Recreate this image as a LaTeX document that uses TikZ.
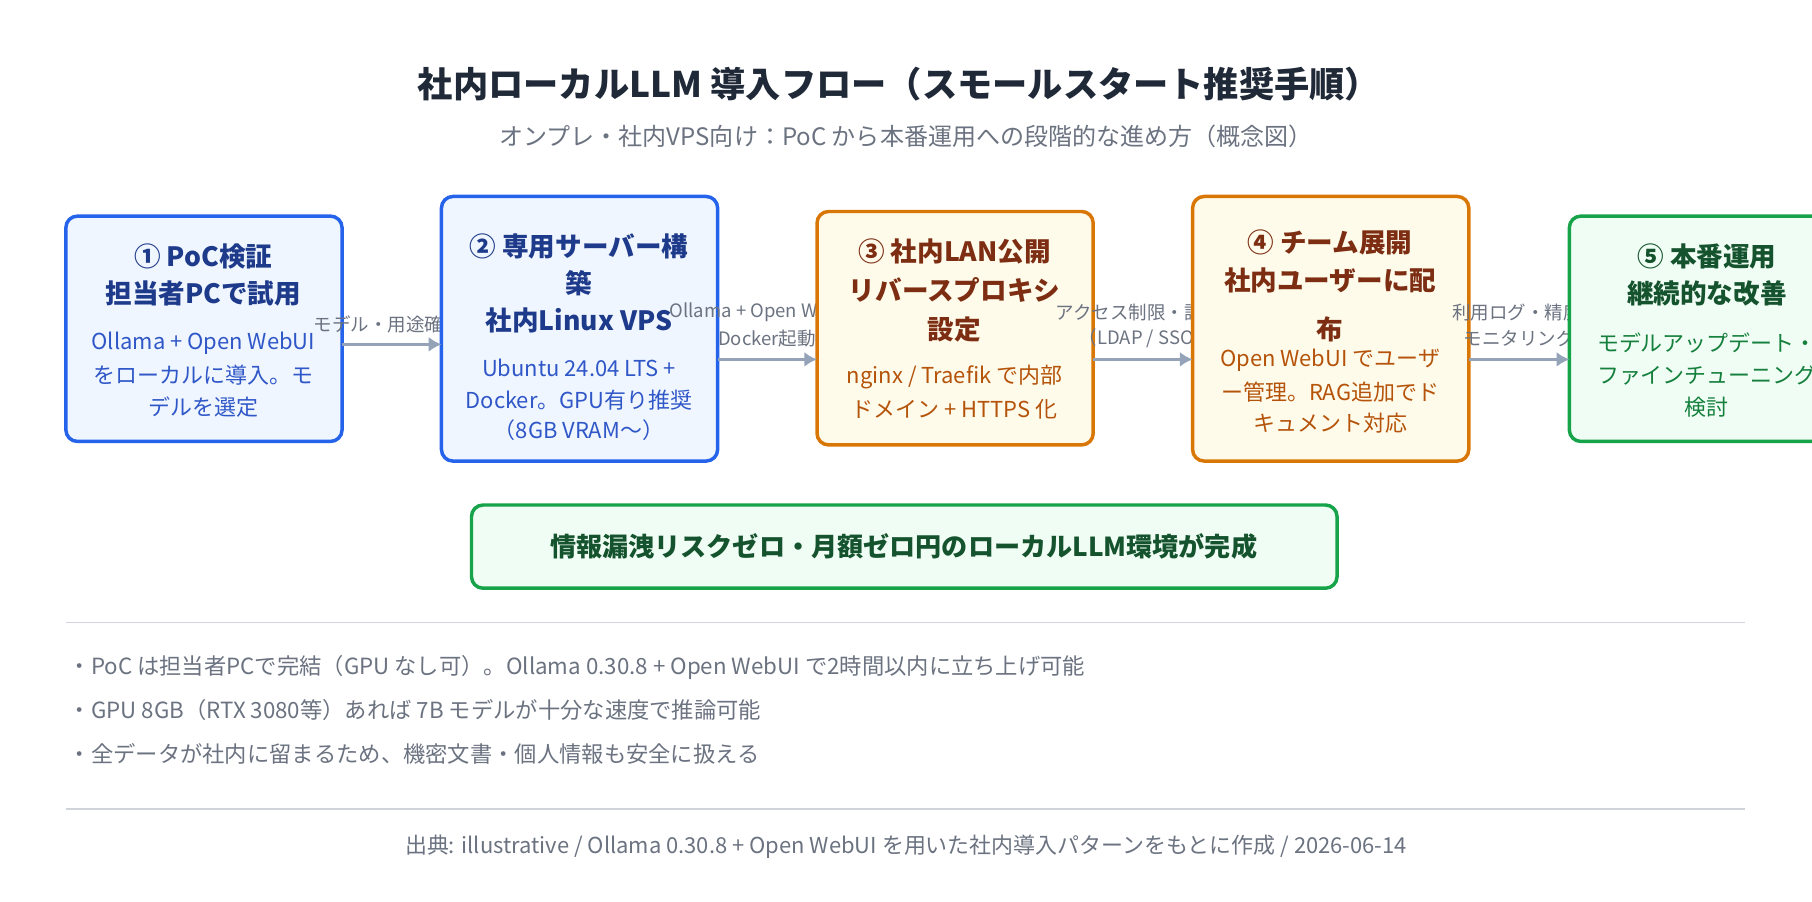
\documentclass[tikz,border=0pt]{standalone}
\usepackage{fontspec}
\usetikzlibrary{arrows.meta}
\setmainfont{Noto Sans CJK JP}
\definecolor{bB}{HTML}{2563EB}\definecolor{bF}{HTML}{EFF6FF}\definecolor{bT}{HTML}{1E3A8A}\definecolor{bX}{HTML}{3057C8}
\definecolor{oB}{HTML}{D97706}\definecolor{oF}{HTML}{FFFBEB}\definecolor{oT}{HTML}{7C2D12}\definecolor{oX}{HTML}{B45309}
\definecolor{gB}{HTML}{16A34A}\definecolor{gF}{HTML}{F0FDF4}\definecolor{gT}{HTML}{14532D}\definecolor{gX}{HTML}{15803D}
\definecolor{arr}{HTML}{94A3B8}\definecolor{lab}{HTML}{6B7280}\definecolor{tit}{HTML}{1F2937}\definecolor{rule}{HTML}{D1D5DB}
\begin{document}
\begin{tikzpicture}[x=1pt,y=-1pt,
 box/.style={draw=#1B,fill=#1F,line width=3pt,rounded corners=10pt},
 tt/.style={font=\fontsize{23}{23}\selectfont\bfseries,text=#1T},
 bx/.style={font=\fontsize{19}{19}\selectfont,text=#1X},
 lb/.style={font=\fontsize{16}{16}\selectfont,text=lab,anchor=west},
 nt/.style={font=\fontsize{19.3}{19}\selectfont,text=lab,anchor=west},
 ar/.style={draw=arr,line width=3pt,-{Latex[length=11pt,width=13pt]}}]
\useasboundingbox (0,0) rectangle (1568,780);
\clip (0,0) rectangle (1568,780);
\node[font=\fontsize{30.5}{30}\selectfont\bfseries,text=tit] (title) at (778,73) {社内ローカルLLM 導入フロー（スモールスタート推奨手順）};
\node[font=\fontsize{20.8}{21}\selectfont,text=lab] (sub) at (784,118) {オンプレ・社内VPS向け：PoC から本番運用への段階的な進め方（概念図）};
% box1
\draw[box=b] (57,187) rectangle (296,382);
\node[tt=b] (a1) at (176,222) {① PoC検証};
\node[tt=b] at (176,254) {担当者PCで試用};
\node[bx=b] at (176,297) {Ollama + Open WebUI};
\node[bx=b] at (176,325) {をローカルに導入。モ};
\node[bx=b] at (176,352) {デルを選定};
\coordinate (b1) at (296,298);
\node[lb] (l1) at (268,281) {モデル・用途確定};
% box2
\draw[box=b] (382,170) rectangle (621,399);
\coordinate (c2) at (382,298);
\draw[ar] (b1) -- (c2);
\node[tt=b] (a2) at (501,213) {② 専用サーバー構};
\node[tt=b] at (501,245) {築};
\node[tt=b] at (501,277) {社内Linux VPS};
\node[bx=b] at (501,318) {Ubuntu 24.04 LTS +};
\node[bx=b] at (501,346) {Docker。GPU有り推奨};
\node[bx=b] at (501,372) {（8GB VRAM〜）};
\coordinate (b2) at (621,311);
\node[lb] (l2) at (576,270) {Ollama + Open WebUI};
\node[lb] at (618,293) {Docker起動確認};
% box3
\draw[box=o] (707,183) rectangle (946,385);
\coordinate (c3) at (707,311);
\draw[ar] (b2) -- (c3);
\node[tt=o] (a3) at (826,218) {③ 社内LAN公開};
\node[tt=o] at (826,251) {リバースプロキシ};
\node[tt=o] at (826,285) {設定};
\node[bx=o] at (826,326) {nginx / Traefik で内部};
\node[bx=o] at (826,354) {ドメイン + HTTPS 化};
\coordinate (b3) at (946,311);
\node[lb] (l3) at (910,270) {アクセス制限・認証};
\node[lb] at (930,293) {（LDAP / SSO）};
% box4
\draw[box=o] (1032,170) rectangle (1271,399);
\coordinate (c4) at (1032,311);
\draw[ar] (b3) -- (c4);
\node[tt=o] (a4) at (1151,210) {④ チーム展開};
\node[tt=o] at (1151,243) {社内ユーザーに配};
\node[tt=o] at (1151,285) {布};
\node[bx=o] at (1151,312) {Open WebUI でユーザ};
\node[bx=o] at (1151,339) {ー管理。RAG追加でド};
\node[bx=o] at (1151,366) {キュメント対応};
\coordinate (b4) at (1271,311);
\node[lb] (l4) at (1253,270) {利用ログ・精度};
\node[lb] at (1263,293) {モニタリング};
% box5
\draw[box=g] (1358,187) rectangle (1597,382);
\coordinate (c5) at (1358,311);
\draw[ar] (b4) -- (c5);
\node[tt=g] (a5) at (1477,222) {⑤ 本番運用};
\node[tt=g] at (1477,254) {継続的な改善};
\node[bx=g] at (1477,297) {モデルアップデート・};
\node[bx=g] at (1477,325) {ファインチューニング};
\node[bx=g] at (1477,352) {検討};
% result
\draw[box=g] (408,437) rectangle (1157,509);
\node[font=\fontsize{22.6}{23}\selectfont\bfseries,text=gT] (res) at (782,473) {情報漏洩リスクゼロ・月額ゼロ円のローカルLLM環境が完成};
\draw[rule,line width=1pt] (57,539) -- (1510,539);
\draw[rule,line width=1pt] (57,700) -- (1510,700);
\node[nt] (n1) at (56,578) {・PoC は担当者PCで完結（GPU なし可）。Ollama 0.30.8 + Open WebUI で2時間以内に立ち上げ可能};
\node[nt] (n2) at (56,614) {・GPU 8GB（RTX 3080等）あれば 7B モデルが十分な速度で推論可能};
\node[nt] (n3) at (56,652) {・全データが社内に留まるため、機密文書・個人情報も安全に扱える};
\node[font=\fontsize{19}{19}\selectfont,text=lab] (src) at (784,733) {出典: illustrative / Ollama 0.30.8 + Open WebUI を用いた社内導入パターンをもとに作成 / 2026-06-14};
\end{tikzpicture}
\end{document}
